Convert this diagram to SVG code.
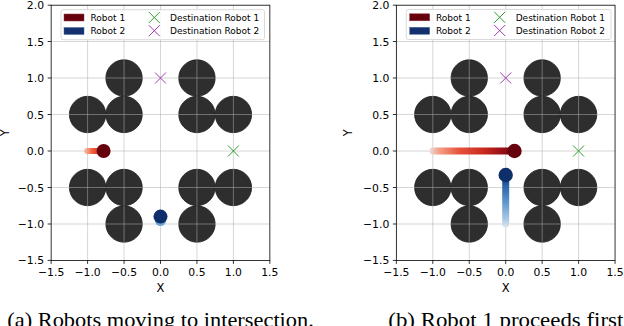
<svg xmlns="http://www.w3.org/2000/svg" width="624" height="326" viewBox="0 0 624 326">
<style>
.tick{font-family:"DejaVu Sans",sans-serif;font-size:10.8px;fill:#000}
.lab{font-family:"DejaVu Sans",sans-serif;font-size:11.5px;fill:#000}
.leg{font-family:"DejaVu Sans",sans-serif;font-size:9px;fill:#000}
.cap{font-family:"Liberation Serif",serif;font-size:22px;fill:#000}
.obs{fill:#2e2e2e;stroke:#1c1c1c;stroke-width:0.8}
.grid{stroke:#b0b0b0;stroke-width:0.8;opacity:0.65;fill:none}
.spine{stroke:#000;stroke-width:0.8;fill:none}
.tk{stroke:#000;stroke-width:0.8}
.legbox{fill:#fff;fill-opacity:0.85;stroke:#d0d0d0;stroke-width:0.8}
.xg{stroke:#2ca02c;stroke-width:1;fill:none}
.xm{stroke:#a03cb4;stroke-width:1;fill:none}
</style>
<defs>
<linearGradient id="gL1" gradientUnits="userSpaceOnUse" x1="84" y1="0" x2="104" y2="0">
<stop offset="0" stop-color="#fcae91" stop-opacity="0.7"/>
<stop offset="0.4" stop-color="#f0603e"/>
<stop offset="1" stop-color="#cb181d"/>
</linearGradient>
<linearGradient id="gR1" gradientUnits="userSpaceOnUse" x1="430" y1="0" x2="514" y2="0">
<stop offset="0" stop-color="#eadbd6"/>
<stop offset="0.1" stop-color="#f4a38a"/>
<stop offset="0.35" stop-color="#e5533a"/>
<stop offset="0.65" stop-color="#c8281e"/>
<stop offset="0.9" stop-color="#8c0b14"/>
<stop offset="1" stop-color="#67000d"/>
</linearGradient>
<linearGradient id="gR2" gradientUnits="userSpaceOnUse" x1="0" y1="227" x2="0" y2="175">
<stop offset="0" stop-color="#dde3ea"/>
<stop offset="0.15" stop-color="#a9c9e4"/>
<stop offset="0.5" stop-color="#5b93cb"/>
<stop offset="0.8" stop-color="#2a62a6"/>
<stop offset="1" stop-color="#08306b"/>
</linearGradient>
</defs>

<!-- Left plot -->
<g id="plotA">
<rect x="51.15" y="5.2" width="218.7" height="255.2" fill="#fff"/>
<g id="obstaclesA">
<circle class="obs" cx="87.6" cy="114.5" r="18.2"/>
<circle class="obs" cx="124.05" cy="114.5" r="18.2"/>
<circle class="obs" cx="124.05" cy="78" r="18.2"/>
<circle class="obs" cx="196.95" cy="78" r="18.2"/>
<circle class="obs" cx="196.95" cy="114.5" r="18.2"/>
<circle class="obs" cx="233.4" cy="114.5" r="18.2"/>
<circle class="obs" cx="87.6" cy="187.5" r="18.2"/>
<circle class="obs" cx="124.05" cy="187.5" r="18.2"/>
<circle class="obs" cx="124.05" cy="224" r="18.2"/>
<circle class="obs" cx="196.95" cy="187.5" r="18.2"/>
<circle class="obs" cx="233.4" cy="187.5" r="18.2"/>
<circle class="obs" cx="196.95" cy="224" r="18.2"/>
</g>
<g id="gridA">
<path class="grid" d="M87.6 5.2V260.4M124.05 5.2V260.4M160.5 5.2V260.4M196.95 5.2V260.4M233.4 5.2V260.4M51.15 41.5H269.85M51.15 78H269.85M51.15 114.5H269.85M51.15 151H269.85M51.15 187.5H269.85M51.15 224H269.85"/>
</g>
<g id="robot1A">
<line x1="87" y1="151" x2="103.6" y2="151" stroke="url(#gL1)" stroke-width="6" stroke-linecap="round"/>
<circle cx="103.6" cy="151" r="7" fill="#67000d"/>
</g>
<g id="robot2A">
<circle cx="160.5" cy="220.5" r="5.5" fill="#6fa6d6"/>
<circle cx="160.5" cy="216.6" r="7" fill="#0f2f6b"/>
</g>
<g id="destA">
<path class="xg" d="M227.9 145.5L238.9 156.5M238.9 145.5L227.9 156.5"/>
<path class="xm" d="M155 72.5L166 83.5M166 72.5L155 83.5"/>
</g>
<g id="legendA">
<rect class="legbox" x="61" y="9.7" width="203.5" height="30" rx="2"/>
<rect x="64" y="14" width="20" height="7" fill="#67000d" stroke="#8a3a40" stroke-width="0.5"/>
<rect x="64" y="27.5" width="20" height="7" fill="#15306e" stroke="#4a6a9a" stroke-width="0.5"/>
<text class="leg" x="90.5" y="21">Robot 1</text>
<text class="leg" x="90.5" y="34.2">Robot 2</text>
<path class="xg" d="M148.8 12L159.8 23M159.8 12L148.8 23"/>
<path class="xm" d="M148.8 25.2L159.8 36.2M159.8 25.2L148.8 36.2"/>
<text class="leg" x="170" y="21">Destination Robot 1</text>
<text class="leg" x="170" y="34.2">Destination Robot 2</text>
</g>
<rect class="spine" x="51.15" y="5.2" width="218.7" height="255.2"/>
<g id="ticksA">
<path class="tk" d="M51.15 260.4v3.5M87.6 260.4v3.5M124.05 260.4v3.5M160.5 260.4v3.5M196.95 260.4v3.5M233.4 260.4v3.5M269.85 260.4v3.5M51.15 5.2h-3.5M51.15 41.5h-3.5M51.15 78h-3.5M51.15 114.5h-3.5M51.15 151h-3.5M51.15 187.5h-3.5M51.15 224h-3.5M51.15 260.4h-3.5"/>
<g class="tick" text-anchor="middle">
<text x="51.15" y="275.7">−1.5</text>
<text x="87.6" y="275.7">−1.0</text>
<text x="124.05" y="275.7">−0.5</text>
<text x="160.5" y="275.7">0.0</text>
<text x="196.95" y="275.7">0.5</text>
<text x="233.4" y="275.7">1.0</text>
<text x="269.85" y="275.7">1.5</text>
</g>
<g class="tick" text-anchor="end">
<text x="44" y="9.2">2.0</text>
<text x="44" y="45.5">1.5</text>
<text x="44" y="82">1.0</text>
<text x="44" y="118.5">0.5</text>
<text x="44" y="155">0.0</text>
<text x="44" y="191.5">−0.5</text>
<text x="44" y="228">−1.0</text>
<text x="44" y="264.4">−1.5</text>
</g>
</g>
<text class="lab" x="160.5" y="291.7" text-anchor="middle">X</text>
<text class="lab" transform="translate(9 132.8) rotate(-90)" text-anchor="middle">Y</text>
</g>

<!-- Right plot -->
<g id="plotB">
<rect x="396.35" y="5.2" width="218.7" height="255.2" fill="#fff"/>
<g id="obstaclesB">
<circle class="obs" cx="432.8" cy="114.5" r="18.2"/>
<circle class="obs" cx="469.25" cy="114.5" r="18.2"/>
<circle class="obs" cx="469.25" cy="78" r="18.2"/>
<circle class="obs" cx="542.15" cy="78" r="18.2"/>
<circle class="obs" cx="542.15" cy="114.5" r="18.2"/>
<circle class="obs" cx="578.6" cy="114.5" r="18.2"/>
<circle class="obs" cx="432.8" cy="187.5" r="18.2"/>
<circle class="obs" cx="469.25" cy="187.5" r="18.2"/>
<circle class="obs" cx="469.25" cy="224" r="18.2"/>
<circle class="obs" cx="542.15" cy="187.5" r="18.2"/>
<circle class="obs" cx="578.6" cy="187.5" r="18.2"/>
<circle class="obs" cx="542.15" cy="224" r="18.2"/>
</g>
<g id="gridB">
<path class="grid" d="M432.8 5.2V260.4M469.25 5.2V260.4M505.7 5.2V260.4M542.15 5.2V260.4M578.6 5.2V260.4M396.35 41.5H615.05M396.35 78H615.05M396.35 114.5H615.05M396.35 151H615.05M396.35 187.5H615.05M396.35 224H615.05"/>
</g>
<g id="robot1B">
<line x1="433" y1="151" x2="514.5" y2="151" stroke="url(#gR1)" stroke-width="7" stroke-linecap="round"/>
<circle cx="514.5" cy="151" r="7.2" fill="#67000d"/>
</g>
<g id="robot2B">
<line x1="505.7" y1="224" x2="505.7" y2="175" stroke="url(#gR2)" stroke-width="7" stroke-linecap="round"/>
<circle cx="505.7" cy="175" r="7.2" fill="#0f2f6b"/>
</g>
<g id="destB">
<path class="xg" d="M573.1 145.5L584.1 156.5M584.1 145.5L573.1 156.5"/>
<path class="xm" d="M500.2 72.5L511.2 83.5M511.2 72.5L500.2 83.5"/>
</g>
<g id="legendB">
<rect class="legbox" x="406.3" y="9.5" width="204.7" height="30" rx="2"/>
<rect x="409.7" y="13.8" width="20" height="7" fill="#67000d" stroke="#8a3a40" stroke-width="0.5"/>
<rect x="409.7" y="27.3" width="20" height="7" fill="#15306e" stroke="#4a6a9a" stroke-width="0.5"/>
<text class="leg" x="436" y="20.8">Robot 1</text>
<text class="leg" x="436" y="34">Robot 2</text>
<path class="xg" d="M494.2 11.8L505.2 22.8M505.2 11.8L494.2 22.8"/>
<path class="xm" d="M494.2 25L505.2 36M505.2 25L494.2 36"/>
<text class="leg" x="515.7" y="20.8">Destination Robot 1</text>
<text class="leg" x="515.7" y="34">Destination Robot 2</text>
</g>
<rect class="spine" x="396.35" y="5.2" width="218.7" height="255.2"/>
<g id="ticksB">
<path class="tk" d="M396.35 260.4v3.5M432.8 260.4v3.5M469.25 260.4v3.5M505.7 260.4v3.5M542.15 260.4v3.5M578.6 260.4v3.5M615.05 260.4v3.5M396.35 5.2h-3.5M396.35 41.5h-3.5M396.35 78h-3.5M396.35 114.5h-3.5M396.35 151h-3.5M396.35 187.5h-3.5M396.35 224h-3.5M396.35 260.4h-3.5"/>
<g class="tick" text-anchor="middle">
<text x="396.35" y="275.7">−1.5</text>
<text x="432.8" y="275.7">−1.0</text>
<text x="469.25" y="275.7">−0.5</text>
<text x="505.7" y="275.7">0.0</text>
<text x="542.15" y="275.7">0.5</text>
<text x="578.6" y="275.7">1.0</text>
<text x="615.05" y="275.7">1.5</text>
</g>
<g class="tick" text-anchor="end">
<text x="389.3" y="9.2">2.0</text>
<text x="389.3" y="45.5">1.5</text>
<text x="389.3" y="82">1.0</text>
<text x="389.3" y="118.5">0.5</text>
<text x="389.3" y="155">0.0</text>
<text x="389.3" y="191.5">−0.5</text>
<text x="389.3" y="228">−1.0</text>
<text x="389.3" y="264.4">−1.5</text>
</g>
</g>
<text class="lab" x="505.7" y="291.7" text-anchor="middle">X</text>
<text class="lab" transform="translate(352.3 132.8) rotate(-90)" text-anchor="middle">Y</text>
</g>

<text class="cap" x="7.3" y="326.5" textLength="306.5" lengthAdjust="spacingAndGlyphs">(a) Robots moving to intersection.</text>
<text class="cap" x="388.3" y="326.5" textLength="235" lengthAdjust="spacingAndGlyphs">(b) Robot 1 proceeds first</text>
</svg>
